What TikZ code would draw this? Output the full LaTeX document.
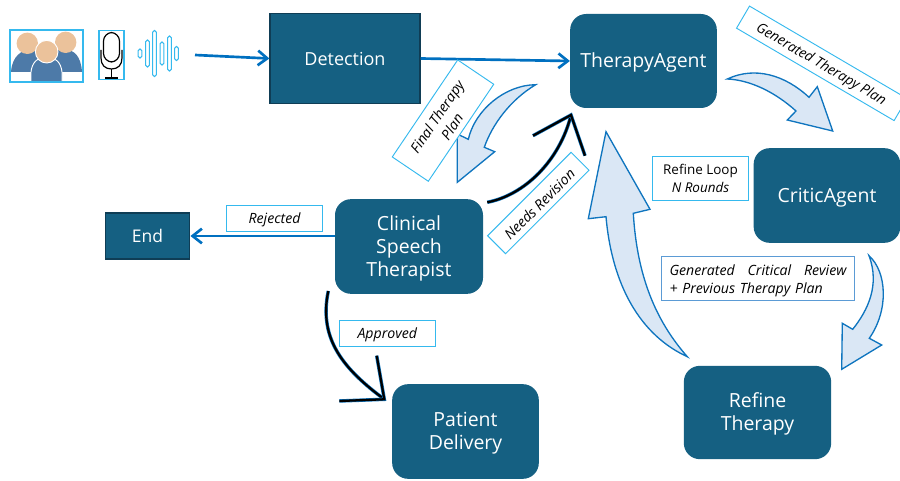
\documentclass[tikz,border=0pt]{standalone}
\usepackage{fontspec}
\setmainfont{Open Sans}
\usetikzlibrary{arrows.meta,calc}
\definecolor{boxfill}{HTML}{156082}
\definecolor{boxedge}{HTML}{0F3D55}
\definecolor{flow}{HTML}{0F75BF}
\definecolor{flowdark}{HTML}{0070C0}
\definecolor{labeledge}{HTML}{35B9EE}
\definecolor{critedge}{HTML}{5B9BD5}
\definecolor{blockfill}{HTML}{DAE7F5}
\definecolor{skin}{HTML}{EBC29B}
\definecolor{body}{HTML}{4D7AA8}
\newcommand{\lowered}[1]{\raisebox{-1.3pt}[\height][\depth]{#1}}
\tikzset{
  agent/.style={fill=boxfill,rounded corners=12pt,text=white,align=center,inner sep=0pt,font=\fontsize{14.6}{17.25}\selectfont},
  plainbox/.style={fill=boxfill,draw=boxedge,line width=0.9pt,text=white,align=center,inner sep=0pt,font=\fontsize{13.1}{15}\selectfont},
  tag/.style={draw=labeledge,fill=white,line width=0.7pt,inner sep=0pt,align=center,text=black,font=\fontsize{10.6}{13.5}\selectfont},
  block/.style={draw=flow,fill=blockfill,line width=1pt,line join=miter},
  flowline/.style={draw=flowdark,line width=2pt,-{Straight Barb[length=7pt,width=11pt,line width=2pt]}},
  ink/.style={draw=black,line width=1.7pt,preaction={draw=flow,line width=2.6pt}},
  bar/.style={draw=labeledge,fill=white,line width=0.8pt,rounded corners=1.2pt},
}
\begin{document}
\begin{tikzpicture}[x=0.75pt,y=-0.75pt]
\useasboundingbox (0,0) rectangle (900,481);
\clip (0,0) rectangle (900,481);
% main boxes
\node[plainbox,minimum width=112.5pt,minimum height=68pt,font=\fontsize{13.5}{16}\selectfont] (det) at (345,58.5) {Detection};
\node[agent,minimum width=110pt,minimum height=70.5pt] (ta) at (643.5,61) {\lowered{TherapyAgent}};
\node[agent,minimum width=110pt,minimum height=71pt] (ca) at (827,195.5) {\lowered{CriticAgent}};
\node[agent,minimum width=110.5pt,minimum height=70pt] (rt) at (757.5,412.5) {\lowered{Refine}\\\lowered{Therapy}};
\node[agent,minimum width=111pt,minimum height=71pt] (cst) at (409,246.5) {\lowered{Clinical}\\\lowered{Speech}\\\lowered{Therapist}};
\node[agent,minimum width=110pt,minimum height=71pt] (pd) at (465.5,431.5) {\lowered{Patient}\\\lowered{Delivery}};
\node[plainbox,minimum width=63.5pt,minimum height=34.5pt] (end) at (147.5,236) {End};
% icons
\node[draw=labeledge,line width=0.8pt,minimum width=54pt,minimum height=38.25pt,inner sep=0pt] (people) at (46.5,56) {};
\begin{scope}
\clip (people.south west) rectangle (people.north east);
\fill[body] (11,72) .. controls (12,56) and (22,50) .. (29,50) -- (66,50) .. controls (74,50) and (81,56) .. (82,72) -- cycle;
\fill[skin] (27.3,43.3) circle[radius=10.7];
\fill[skin] (65.7,42.3) circle[radius=10.7];
\fill[body,draw=white,line width=0.7pt] (31,82) -- (31,72) .. controls (32,62) and (38,57) .. (46.7,57) .. controls (55,57) and (61,62) .. (62,72) -- (62,82) -- cycle;
\fill[skin,draw=white,line width=0.7pt] (46.7,51.7) circle[radius=11.3];
\end{scope}
\draw[labeledge,line width=0.8pt] (people.south west) rectangle (people.north east);
\node[draw=labeledge,line width=0.8pt,minimum width=18.75pt,minimum height=36.75pt,inner sep=0pt] (mic) at (111.5,54.75) {};
\draw[black,line width=0.9pt,rounded corners=6.5pt] (103.5,62) rectangle (119.5,32.5);
\draw[black,line width=0.9pt] (101,50) -- (101,58) .. controls (101,65) and (105,69) .. (111.5,69) .. controls (118,69) and (122,65) .. (122,58) -- (122,50);
\draw[black,line width=0.9pt] (111.5,69) -- (111.5,78) (105,78) -- (118,78);
\foreach \bx/\bh in {140/4.5,147.5/13.5,154.5/23,162/11.5,169.5/17.5,176.5/7} {
  \draw[bar] (\bx-1.8,53.5-\bh) rectangle (\bx+1.8,53.5+\bh);
}
\coordinate (wave) at (195,55);
% straight connectors
\draw[flowline] (wave) -- (det.west);
\draw[flowline] (det.east) -- (ta.west);
\draw[flowline] (cst.west |- end.east) -- (end.east);
% block arrows
\draw[block] (535.7,84.7) .. controls (505,85) and (475,110) .. (468.3,139.3) -- (457.3,134) -- (457.3,182.3) -- (494.7,151.7) -- (484.3,147.3) .. controls (492,125) and (510,100) .. cycle;
\draw[block] (727.3,79) .. controls (755,66) and (785,75) .. (809,97.3) -- (817.3,86.7) -- (832.7,131) -- (787.3,120) -- (796,111) .. controls (775,92) and (750,80) .. cycle;
\draw[block] (869,255.7) .. controls (887,272) and (889,310) .. (869.3,338.3) -- (881.7,345) -- (841.7,369.3) -- (842.3,323.3) -- (852.7,329.3) .. controls (868,310) and (880,285) .. cycle;
\draw[block] (687.3,356.7) .. controls (640,335) and (612,285) .. (606,216.7) -- (588.3,218.7) -- (606,131.7) -- (650,209.3) -- (633.3,213.3) .. controls (637,275) and (655,320) .. cycle;
% curved connectors
\coordinate (revS) at (487.3,202.3);
\coordinate (revT) at (571,115);
\coordinate (revA) at (533,135.7);
\coordinate (revB) at (585,155.7);
\draw[ink] (revS) .. controls (525,195) and (560,160) .. (revT);
\draw[ink,line join=miter] (revA) -- (revT) -- (revB);
\coordinate (appS) at (328.3,291);
\coordinate (appT) at (384.3,399.3);
\coordinate (appA) at (376.7,355.7);
\coordinate (appB) at (339.3,401);
\draw[ink] (appS) .. controls (318,340) and (345,370) .. (appT);
\draw[ink,line join=miter] (appA) -- (appT) -- (appB);
% labels
\node[tag,rotate=56,minimum width=87.75pt,minimum height=32.6pt] (lfinal) at (443,120.6) {\lowered{\itshape Final Therapy}\\\lowered{\itshape Plan}};
\node[tag,rotate=45,minimum width=88.5pt,minimum height=19pt] (lneeds) at (538.3,203) {\lowered{\itshape Needs Revision}};
\node[tag,rotate=-30.4,minimum width=137pt,minimum height=19.2pt,font=\fontsize{10.4}{13}\selectfont] (lgen) at (821.8,63.35) {\lowered{\itshape Generated Therapy Plan}};
\node[tag,minimum width=71.6pt,minimum height=33pt,font=\fontsize{10.1}{13}\selectfont] (lloop) at (700.5,178.5) {Refine Loop\\\itshape N Rounds};
\node[tag,draw=critedge,minimum width=144.5pt,minimum height=33.2pt,align=left,text width=132.7pt,inner xsep=5.9pt] (lcrit) at (758,278.8) {\lowered{\makebox[132.7pt][s]{\itshape Generated\hfil Critical\hfil Review}}\\\lowered{\itshape + Previous Therapy Plan}};
\node[tag,minimum width=71.5pt,minimum height=19.2pt] (lrej) at (274.6,218.5) {\lowered{\itshape Rejected}};
\node[tag,minimum width=71.5pt,minimum height=19.2pt] (lapp) at (387.3,333.3) {\lowered{\itshape Approved}};
\end{tikzpicture}
\end{document}
